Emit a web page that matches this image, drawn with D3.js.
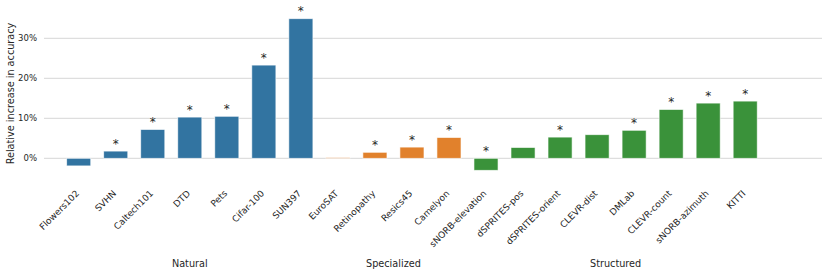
<!DOCTYPE html>
<html>
<head>
<meta charset="utf-8">
<script src="https://cdn.jsdelivr.net/npm/d3@7"></script>
<style>
  body { margin: 0; background: #fff; }
  svg { display: block; font-family: "DejaVu Sans", sans-serif; }
</style>
</head>
<body>
<svg id="chart" width="831" height="274"></svg>
<script>
// datasets, in plot order
const categories = ["Flowers102", "SVHN", "Caltech101", "DTD", "Pets", "Cifar-100", "SUN397",
  "EuroSAT", "Retinopathy", "Resics45", "Camelyon",
  "sNORB-elevation", "dSPRITES-pos", "dSPRITES-orient", "CLEVR-dist", "DMLab", "CLEVR-count", "sNORB-azimuth", "KITTI"];
// relative increase in accuracy (%)
const values = [-1.9, 1.8, 7.2, 10.3, 10.5, 23.3, 34.9,
  0.2, 1.5, 2.8, 5.2,
  -3.0, 2.7, 5.3, 5.9, 7.0, 12.2, 13.8, 14.3];
const groupOf = ["Natural", "Natural", "Natural", "Natural", "Natural", "Natural", "Natural",
  "Specialized", "Specialized", "Specialized", "Specialized",
  "Structured", "Structured", "Structured", "Structured", "Structured", "Structured", "Structured", "Structured"];
// significance marker
const significant = [false, true, true, true, true, true, true,
  false, true, true, true,
  true, false, true, false, true, true, true, true];
const groups = ["Natural", "Specialized", "Structured"];
const yTicks = [0, 10, 20, 30];

const colors = {Natural: "#3274a1", Specialized: "#e1812c", Structured: "#3a923a"};

const svg = d3.select("#chart");

const x = d3.scaleBand()
  .domain(categories)
  .range([60.2, 763.7])
  .paddingInner(0.35)
  .paddingOuter(0.175);

const y = d3.scaleLinear()
  .domain([-4, 38])
  .range([174.3, 6.3]);

// grid
svg.append("g")
  .selectAll("line")
  .data(yTicks)
  .enter()
  .append("line")
  .attr("x1", 44)
  .attr("x2", 822)
  .attr("y1", d => y(d))
  .attr("y2", d => y(d))
  .attr("stroke", "#d6d6d6")
  .attr("stroke-width", 1);

// y tick labels
svg.append("g")
  .selectAll("text")
  .data(yTicks)
  .enter()
  .append("text")
  .attr("x", 37)
  .attr("y", d => y(d))
  .attr("dy", "0.35em")
  .attr("text-anchor", "end")
  .style("font-size", "8.5px")
  .style("fill", "#262626")
  .text(d => d + "%");

// y label
svg.append("text")
  .attr("transform", "translate(13.5," + 93.5 + ") rotate(-90)")
  .attr("text-anchor", "middle")
  .style("font-size", "9.7px")
  .style("fill", "#262626")
  .text("Relative increase in accuracy");

// bars
svg.append("g")
  .selectAll("rect")
  .data(categories)
  .enter()
  .append("rect")
  .attr("x", d => x(d))
  .attr("width", x.bandwidth())
  .attr("y", (d, i) => y(Math.max(0, values[i])))
  .attr("height", (d, i) => Math.abs(y(values[i]) - y(0)))
  .attr("fill", (d, i) => colors[groupOf[i]])
  .attr("stroke", "#ffffff")
  .attr("stroke-opacity", 0.75)
  .attr("stroke-width", 0.8);

// asterisks
svg.append("g")
  .selectAll("text")
  .data(categories.filter((d, i) => significant[i]))
  .enter()
  .append("text")
  .attr("x", d => x(d) + x.bandwidth() / 2)
  .attr("y", d => y(Math.max(0, values[categories.indexOf(d)])) - 3.5)
  .attr("text-anchor", "middle")
  .style("font-size", "12px")
  .style("fill", "#262626")
  .text("*");

// x tick labels, rotated
svg.append("g")
  .selectAll("text")
  .data(categories)
  .enter()
  .append("text")
  .attr("transform", d => "translate(" + (x(d) + x.bandwidth() / 2 + 1) + ",194) rotate(-45)")
  .attr("text-anchor", "end")
  .style("font-size", "9px")
  .style("fill", "#262626")
  .text(d => d);

// group labels
svg.append("g")
  .selectAll("text")
  .data(groups)
  .enter()
  .append("text")
  .attr("x", g => {
    const members = categories.filter((d, i) => groupOf[i] === g);
    const a = x(members[0]) + x.bandwidth() / 2;
    const b = x(members[members.length - 1]) + x.bandwidth() / 2;
    return (a + b) / 2;
  })
  .attr("y", 267)
  .attr("text-anchor", "middle")
  .style("font-size", "9.7px")
  .style("fill", "#262626")
  .text(g => g);
</script>
</body>
</html>
